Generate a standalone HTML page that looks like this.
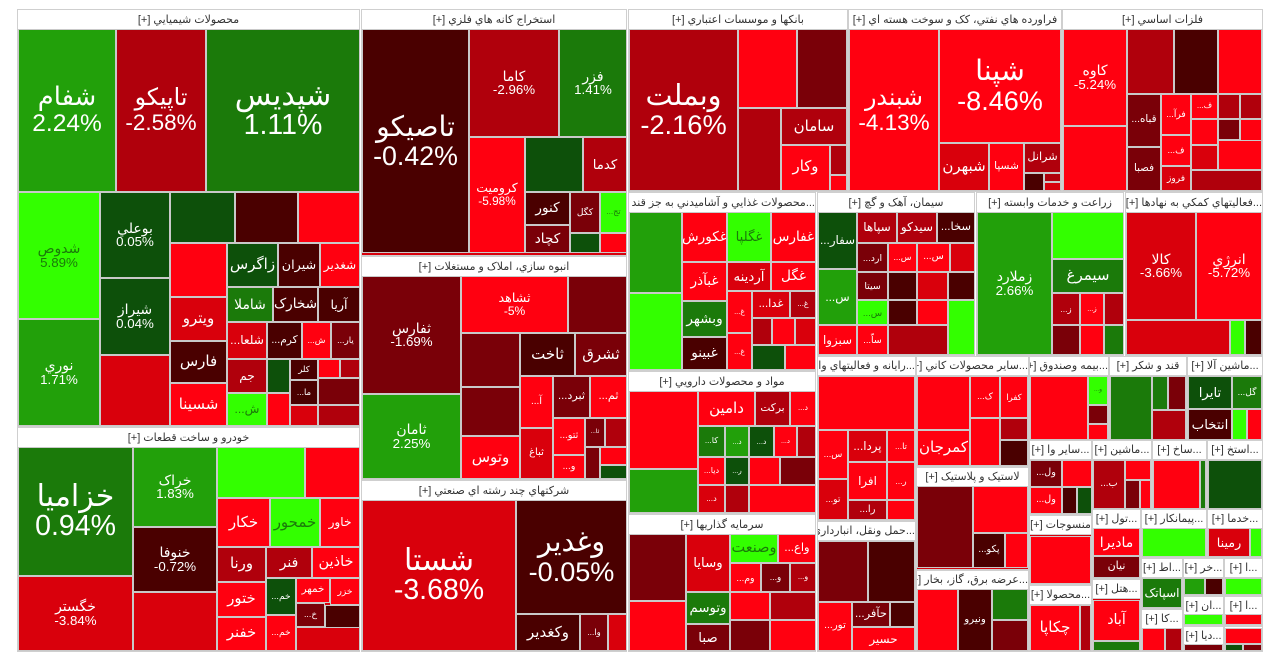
<!DOCTYPE html>
<html><head><meta charset="utf-8"><style>
html,body{margin:0;padding:0;background:#fff;width:1280px;height:665px;overflow:hidden;font-family:"Liberation Sans","DejaVu Sans",sans-serif}
#map{position:absolute;left:0;top:0;width:1280px;height:665px}
.g{position:absolute;background:#d8000c;box-sizing:border-box;border:1px solid #cfcfcf}
.h{position:absolute;background:#fff;color:#333;box-sizing:border-box;border-bottom:1px solid #cfcfcf;text-align:center;white-space:nowrap;overflow:hidden;direction:rtl}
.c{position:absolute;box-sizing:border-box;border:1px solid #c9c9c9;color:#fff;display:flex;flex-direction:column;align-items:center;justify-content:center;overflow:hidden;text-align:center;line-height:1.05;white-space:nowrap}
</style></head><body>
<div id="map"></div>
<script>
const groupTitles=['محصولات شيميايي [+]','خودرو و ساخت قطعات [+]','استخراج کانه هاي فلزي [+]','انبوه سازي، املاک و مستغلات [+]','شرکتهاي چند رشته اي صنعتي [+]','بانکها و موسسات اعتباري [+]','فراورده هاي نفتي، کک و سوخت هسته اي [+]','فلزات اساسي [+]','...محصولات غذايي و آشاميدني به جز قند [+]','سيمان، آهک و گچ [+]','زراعت و خدمات وابسته [+]','...فعاليتهاي کمکي به نهادها [+]','مواد و محصولات دارويي [+]','سرمايه گذاريها [+]','...رايانه و فعاليتهاي وابسته [+]','...حمل ونقل، انبارداري [+]','...ساير محصولات کاني [+]','لاستيک و پلاستيک [+]','...عرضه برق، گاز، بخار [+]','...بيمه وصندوق [+]','قند و شکر [+]','...ماشين آلا [+]','...ساير وا [+]','...ماشين [+]','...ساخ [+]','...استخ [+]','منسوجات [+]','...محصولا [+]','...تول [+]','...هتل [+]','...پيمانکار [+]','...خدما [+]','...اط [+]','...خر [+]','...ا [+]','...کا [+]','...ان [+]','...ا [+]','...ديا [+]','... [+]'];
const groupBoxes=[[17,9,360,427],[17,427,360,652],[361,9,627,256],[361,256,627,480],[361,480,627,652],[628,9,848,192],[848,9,1062,192],[1062,9,1263,192],[628,192,816,371],[817,192,975,356],[976,192,1124,356],[1125,192,1263,356],[628,371,816,514],[628,514,816,652],[817,356,916,521],[817,521,916,652],[916,356,1029,467],[916,467,1029,570],[916,570,1029,652],[1029,356,1109,440],[1109,356,1187,440],[1187,356,1263,440],[1029,440,1092,515],[1092,440,1152,509],[1152,440,1207,509],[1207,440,1263,509],[1029,515,1092,585],[1029,585,1092,652],[1092,509,1141,579],[1092,579,1141,652],[1141,509,1207,558],[1207,509,1263,558],[1141,558,1183,609],[1183,558,1224,596],[1224,558,1263,596],[1141,609,1183,652],[1183,596,1224,626],[1224,596,1263,626],[1183,626,1224,652],[1224,626,1263,652]];
const names=['شفام','تاپيکو','شپديس','شدوص','نوري','بوعلي','شيراز','','','','','','زاگرس','شيران','شغدير','ويترو','شاملا','شخارک','آريا','فارس','شسينا','...شلعا','...کرم','...ش','...يار','جم','','کلر','','','...ش','','...ما','','','',
'خزاميا','خگستر','خراک','خنوفا','','','','خکار','خمحور','خاور','ورنا','فنر','خاذين','ختور','...خم','خمهر','خزر','خفنر','...خم','...خ','','',
'تاصيکو','کاما','فزر','کروميت','','کدما','کنور','کگل','...تج','کچاد','','',
'ثفارس','ثامان','ثشاهد','','','ثاخت','ثشرق','','وتوس','...آ','...ثبرد','...ثم','ثباغ','...ثتو','...ثا','','...و','','','',
'شستا','وغدير','وکغدير','...وا','',
'وبملت','','','','سامان','وکار','','',
'شبندر','شپنا','شبهرن','شسپا','شرانل','','','',
'کاوه','','','','','...قباه','فصبا','...فرآ','...ف','فروز','...ف','','','','','','','','',
'','','غکورش','غگلپا','غفارس','غبآذر','آردينه','غگل','وبشهر','غبينو','...غ','...غدا','...غ','...غ','','','','','',
'...سفار','سپاها','سيدکو','...سخا','...س','...ارد','...س','...س','','سيتا','','','','...س','سبزوا','...ساّ','','','','',
'زملارد','','سيمرغ','...ز','...ز','','','','',
'کالا','انرژي','','','',
'','','دامين','برکت','...د','...کا','...د','...د','...د','','...ديا','...ر','...د','','','','',
'','','وسايا','وصنعت','...واع','...وم','...و','...و','وتوسم','صبا','','','','',
'','...س','...پردا','...تا','...تو','افرا','...ر','...را','','',
'','','...تور','...حآفر','حسير','',
'','...ک','کفرا','کمرجان','','','',
'','','...پکو','',
'','ونيرو','','',
'','...و','','',
'','','','',
'تايرا','...گل','انتخاب','','',
'...ول','...ول','','','',
'...ب','','','',
'','',
'',
'','چکاپا','',
'ماديرا','نيان','آباد','',
'','رمينا','',
'اسپاتک','','','','','','','','','','',''];
const values=[2.24,-2.58,1.11,5.89,1.71,0.05,0.04,-3.4,0.2,-0.8,-4.5,-4.2,0.4,-0.9,-4.3,-3.2,1.2,-0.7,-0.6,-0.6,-4.2,-3.1,-0.8,-4.4,-1.5,-2.6,0.2,-0.7,-4.4,-2.6,4.5,-4.5,-0.8,-3.3,-1.2,-2.7,
0.94,-3.84,1.83,-0.72,-3.28,5.47,-4.9,-4.2,4.5,-4.6,-2.7,-2.6,-4.5,-4.3,0.3,-4.2,-4.5,-4.4,-4.6,-1.5,-0.8,-3.3,
-0.42,-2.96,1.41,-5.98,0.1,-2.7,-0.9,-1.4,4,-1.4,0.2,-4.5,
-1.69,2.25,-5,-1.6,-1.5,-0.6,-1.4,-1.2,-4.2,-4.4,-1.3,-4.3,-3.5,-4.2,-1,-2.6,-4.4,-1.2,-4.3,0.2,
-3.68,-0.05,-0.7,-1.2,-3.2,
-2.16,-4.82,-1.69,-2.1,-2.3,-4.2,-2.4,-4.5,
-4.13,-8.46,-3.5,-4.6,-2.4,-0.5,-2.5,-3.2,
-5.24,-4.18,-2.5,-0.8,-4.9,-1.2,-1.1,-4.4,-4.3,-3.5,-4.4,-2.6,-2.4,-4.4,-1.5,-4.2,-3.1,-4.5,-2.2,
1.76,4.5,-4.3,3.5,-4.3,-4.4,-3.5,-4.4,1.2,-0.5,-4.4,-3.2,-2.5,-4.4,-2.8,-4.5,-3.1,0.2,-4.5,
0.2,-2.8,-2.5,-0.5,1.5,-1,-4.3,-4.5,-3,-1.2,-0.6,-3,-0.6,4,-4.2,-4.3,-0.5,-4.4,4.2,-2.6,
2.66,4,1.2,-2.5,-4.4,-2.6,-1.5,-4.4,0.5,
-3.66,-5.72,-3.7,4.2,-0.7,
-5.96,1.8,-4.3,-2.8,-4.4,0.8,1.8,0.2,-4.4,-2.7,-4.4,0.1,-3.5,-2.8,-4.4,-1.5,-4.2,
-1.94,-4.5,-3.5,3.5,-4.4,-4.5,-1.3,-2.5,1,-1.1,-4.3,-2.6,-1.5,-4.4,
-5.93,-4.4,-3.6,-4.2,-3.5,-4.4,-4.3,-2.5,-4.4,-1.4,
-1.5,-0.9,-4.4,-1.8,-4.3,-0.7,
-5.04,-4.3,-4.4,-4.4,-4.4,-2.6,-0.8,
-1.1,-4.5,-0.6,-4.2,
-4.6,-0.7,0.8,-1.5,
-4.92,3,-1.6,-4.3,
0.5,1.2,-1.2,-2.5,
0.3,0.8,-0.6,4.2,-4.4,
-1.1,-4.4,-4.4,-0.8,0.3,
-2.5,-4.4,-1,-4.4,
-4.5,0.6,
0.3,
-4.86,-4.4,-2.5,
-4.4,-1,-4.4,0.5,
4.2,-3.3,4.2,
0.8,1.5,-0.8,4.3,4.2,-4.4,-4.5,-2.6,-1.5,0.3,-1.2,-4.3];
const pctSymbols=['شفام','تاپيکو','شپديس','شدوص','نوري','بوعلي','شيراز','خزاميا','خگستر','خراک','خنوفا','تاصيکو','کاما','فزر','کروميت','ثفارس','ثامان','ثشاهد','شستا','وغدير','وبملت','شبندر','شپنا','کاوه','زملارد','کالا','انرژي'];
const bigSymbols=['شفام','تاپيکو','شپديس','خزاميا','تاصيکو','شستا','وبملت','شبندر','شپنا','وغدير'];
const rects=[[18,29,116,192],[116,29,206,192],[206,29,360,192],[18,192,100,319],[18,319,100,426],[100,192,170,278],[100,278,170,355],[100,355,170,426],[170,192,235,243],[235,192,298,243],[298,192,360,243],[170,243,227,297],[227,243,278,287],[278,243,320,287],[320,243,360,287],[170,297,227,341],[227,287,273,322],[273,287,318,322],[318,287,360,322],[170,341,227,383],[170,383,227,426],[227,322,267,359],[267,322,302,359],[302,322,331,359],[331,322,360,359],[227,359,267,393],[267,359,290,393],[290,359,318,380],[318,359,340,378],[340,359,360,378],[227,393,267,426],[267,393,290,426],[290,380,318,405],[290,405,318,426],[318,378,360,405],[318,405,360,426],
[18,447,133,576],[18,576,133,651],[133,447,217,527],[133,527,217,592],[133,592,217,651],[217,447,305,498],[305,447,360,498],[217,498,270,547],[270,498,320,547],[320,498,360,547],[217,547,266,582],[266,547,312,578],[312,547,360,578],[217,582,266,617],[266,578,296,615],[296,578,330,603],[330,578,360,605],[217,617,266,651],[266,615,296,651],[296,603,325,627],[325,605,360,630],[296,627,360,651],
[362,29,469,253],[469,29,559,137],[559,29,627,137],[469,137,525,253],[525,137,583,192],[583,137,627,192],[525,192,570,225],[570,192,600,233],[600,192,627,233],[525,225,570,253],[570,233,600,253],[600,233,627,253],
[362,276,461,394],[362,394,461,479],[461,276,568,333],[568,276,627,333],[461,333,520,387],[520,333,575,376],[575,333,627,376],[461,387,520,436],[461,436,520,479],[520,376,553,428],[553,376,590,418],[590,376,627,418],[520,428,553,479],[553,418,585,455],[585,418,605,447],[605,418,627,447],[553,455,585,479],[585,447,600,479],[600,447,627,465],[600,465,627,479],
[362,500,516,651],[516,500,627,614],[516,614,580,651],[580,614,608,651],[608,614,627,651],
[629,29,738,191],[738,29,797,108],[797,29,847,108],[738,108,781,191],[781,108,847,145],[781,145,830,191],[830,145,847,175],[830,175,847,191],
[849,29,939,191],[939,29,1061,143],[939,143,989,191],[989,143,1024,191],[1024,143,1061,173],[1024,173,1044,191],[1044,173,1061,182],[1044,182,1061,191],
[1063,29,1127,126],[1063,126,1127,191],[1127,29,1174,94],[1174,29,1218,94],[1218,29,1262,94],[1127,94,1161,147],[1127,147,1161,191],[1161,94,1191,135],[1161,135,1191,166],[1161,166,1191,191],[1191,94,1218,119],[1218,94,1240,119],[1240,94,1262,119],[1191,119,1218,145],[1218,119,1240,140],[1240,119,1262,145],[1191,145,1218,170],[1218,140,1262,170],[1191,170,1262,191],
[629,212,682,293],[629,293,682,370],[682,212,727,262],[727,212,771,262],[771,212,816,262],[682,262,727,301],[727,262,771,291],[771,262,816,291],[682,301,727,337],[682,337,727,370],[727,291,752,333],[752,291,790,318],[790,291,816,318],[727,333,752,370],[752,318,772,345],[772,318,795,345],[795,318,816,345],[752,345,785,370],[785,345,816,370],
[818,212,857,269],[857,212,897,243],[897,212,937,243],[937,212,975,243],[818,269,857,325],[857,243,888,272],[888,243,917,272],[917,243,950,272],[950,243,975,272],[857,272,888,300],[888,272,917,300],[917,272,948,300],[948,272,975,300],[857,300,888,325],[818,325,857,355],[857,325,888,355],[888,300,917,325],[917,300,948,325],[948,300,975,355],[888,325,948,355],
[977,212,1052,355],[1052,212,1124,259],[1052,259,1124,293],[1052,293,1080,325],[1080,293,1104,325],[1104,293,1124,325],[1052,325,1080,355],[1080,325,1104,355],[1104,325,1124,355],
[1126,212,1196,320],[1196,212,1262,320],[1126,320,1230,355],[1230,320,1245,355],[1245,320,1262,355],
[629,391,698,469],[629,469,698,513],[698,391,755,426],[755,391,790,426],[790,391,816,426],[698,426,725,457],[725,426,749,457],[749,426,774,457],[774,426,797,457],[797,426,816,457],[698,457,725,485],[725,457,749,485],[698,485,725,513],[725,485,749,513],[749,457,780,485],[780,457,816,485],[749,485,816,513],
[629,534,686,601],[629,601,686,651],[686,534,730,592],[730,534,778,563],[778,534,816,563],[730,563,761,592],[761,563,790,592],[790,563,816,592],[686,592,730,624],[686,624,730,651],[730,592,770,620],[770,592,816,620],[730,620,770,651],[770,620,816,651],
[818,376,915,430],[818,430,848,479],[848,430,887,462],[887,430,915,462],[818,479,848,520],[848,462,887,500],[887,462,915,500],[848,500,887,520],[887,500,915,520],[818,500,818,500],
[818,541,868,602],[868,541,915,602],[818,602,852,651],[852,602,890,627],[852,627,915,651],[890,602,915,627],
[917,376,970,430],[970,376,1000,418],[1000,376,1028,418],[917,430,970,466],[970,418,1000,466],[1000,418,1028,440],[1000,440,1028,466],
[917,486,973,568],[973,486,1028,533],[973,533,1005,568],[1005,533,1028,568],
[917,589,958,651],[958,589,992,651],[992,589,1028,620],[992,620,1028,651],
[1030,376,1088,440],[1088,376,1108,405],[1088,405,1108,424],[1088,424,1108,440],
[1110,376,1152,440],[1152,376,1168,410],[1168,376,1186,410],[1152,410,1186,440],
[1188,376,1232,409],[1232,376,1262,409],[1188,409,1232,440],[1232,409,1247,440],[1247,409,1262,440],
[1030,460,1062,487],[1030,487,1062,514],[1062,460,1092,487],[1062,487,1077,514],[1077,487,1092,514],
[1093,460,1125,509],[1125,460,1151,480],[1125,480,1140,509],[1140,480,1151,509],
[1153,460,1200,509],[1200,460,1206,509],
[1208,460,1262,509],
[1030,536,1091,584],[1030,605,1080,651],[1080,605,1091,651],
[1093,528,1140,556],[1093,556,1140,578],[1093,600,1140,641],[1093,641,1140,651],
[1142,528,1206,557],[1208,528,1250,557],[1250,528,1262,557],
[1142,578,1182,608],[1184,578,1205,595],[1205,578,1223,595],[1225,578,1262,595],[1184,614,1223,625],[1225,614,1262,625],[1142,628,1165,651],[1165,628,1182,651],[1184,644,1223,651],[1225,644,1243,651],[1243,644,1262,651],[1225,628,1262,644]];

function colorOf(p){
  if(p>=3) return '#33ff00';
  if(p>=1.5) return '#22a00a';
  if(p>=0.5) return '#1b7a0a';
  if(p>=0) return '#0d500a';
  if(p>-1) return '#4a0000';
  if(p>-2) return '#7a0008';
  if(p>-3) return '#b0000c';
  if(p>-4) return '#d9000c';
  return '#ff0010';
}
const map=document.getElementById('map');
groupBoxes.forEach((b,i)=>{
  const g=document.createElement('div');
  g.className='g';
  
  
  g.style.left=b[0]+'px';g.style.top=b[1]+'px';g.style.width=(b[2]-b[0])+'px';g.style.height=(b[3]-b[1])+'px';
  const small=(b[2]-b[0])<120;
  const hh=small?19:20;
  const h=document.createElement('div');
  h.className='h';
  
  
  h.style.left='0';h.style.top='0';h.style.width='100%';h.style.height=hh+'px';
  h.style.fontSize='11px';h.style.lineHeight=hh+'px';
  h.textContent=groupTitles[i];
  g.appendChild(h);
  map.appendChild(g);
});
rects.forEach((r,i)=>{
  const w=r[2]-r[0],hgt=r[3]-r[1];
  if(w<=0||hgt<=0) return;
  const v=values[i]!==undefined?values[i]:-3.5;
  const c=document.createElement('div');
  c.className='c';
  
  
  c.style.left=r[0]+'px';c.style.top=r[1]+'px';c.style.width=w+'px';c.style.height=hgt+'px';
  c.style.background=colorOf(v);
  if(v>=3) c.style.color='#1b7a0a';
  const nm=names[i]||'';
  if(nm && pctSymbols.includes(nm)){
    let fs=bigSymbols.includes(nm)?Math.min(30,w/3.8,hgt/4):Math.min(14,w/4.5,hgt/4.5);
    if(fs<7) fs=7;
    const a=document.createElement('div');a.textContent=nm;a.style.fontSize=fs+'px';
    const b=document.createElement('div');b.textContent=v+'%';b.style.fontSize=(fs*0.95)+'px';
    c.appendChild(a);c.appendChild(b);
  } else if(nm){
    let fs=Math.min(15,w/3.3,hgt/2);
    c.style.fontSize=fs+'px';c.textContent=nm;
  }
  map.appendChild(c);
});
</script>
</body></html>
